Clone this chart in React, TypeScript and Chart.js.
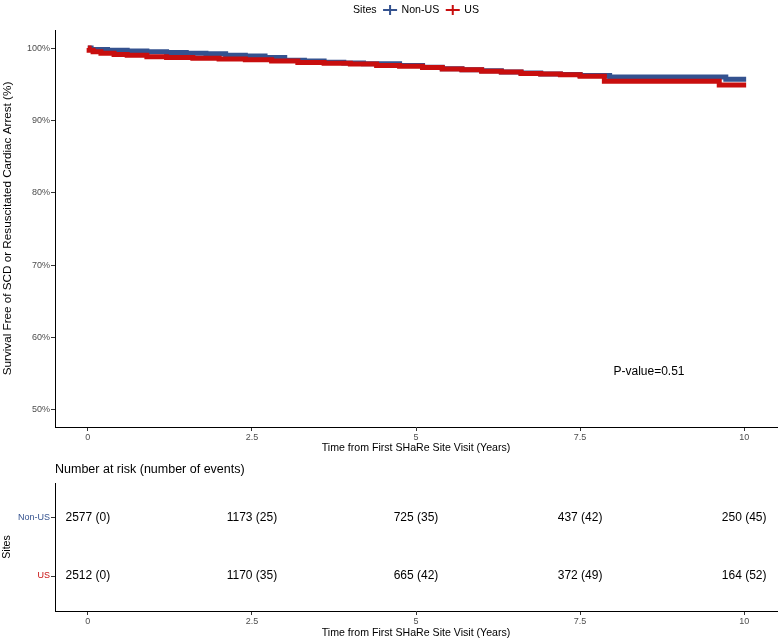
import React, { useEffect, useRef } from "react";
import { Chart, registerables } from "chart.js";

Chart.register(...registerables);

// ---------- data ----------
const seriesNames = ["Non-US", "US"];
const nonUsTimes = [0, 0.05, 0.3, 0.6, 0.9, 1.2, 1.5, 1.8, 2.1, 2.4, 2.7, 3.0, 3.3, 3.6, 3.9, 4.2, 4.75, 5.1, 5.4, 5.7, 6.0, 6.3, 6.6, 6.9, 7.2, 7.5, 7.95, 9.72, 10.03];
const nonUsSurv = [100, 99.8, 99.7, 99.6, 99.5, 99.4, 99.3, 99.2, 99.0, 98.9, 98.7, 98.3, 98.2, 98.05, 97.95, 97.85, 97.6, 97.35, 97.15, 97.0, 96.85, 96.7, 96.55, 96.4, 96.35, 96.2, 96.0, 95.7, 95.7];
const usTimes = [0, 0.02, 0.08, 0.2, 0.4, 0.6, 0.9, 1.2, 1.6, 2.0, 2.4, 2.8, 3.2, 3.6, 4.0, 4.4, 4.75, 5.1, 5.4, 5.7, 6.0, 6.3, 6.6, 6.9, 7.2, 7.5, 7.87, 9.62, 10.03];
const usSurv = [100, 99.7, 99.5, 99.3, 99.1, 99.0, 98.8, 98.7, 98.6, 98.5, 98.4, 98.2, 98.0, 97.9, 97.8, 97.6, 97.5, 97.3, 97.1, 97.0, 96.8, 96.7, 96.5, 96.4, 96.3, 96.1, 95.4, 94.9, 94.9];

const riskTimes = [0, 2.5, 5, 7.5, 10];
const nonUsAtRisk = [2577, 1173, 725, 437, 250];
const nonUsEvents = [0, 25, 35, 42, 45];
const usAtRisk = [2512, 1170, 665, 372, 164];
const usEvents = [0, 35, 42, 49, 52];

const xTicks = [0, 2.5, 5, 7.5, 10];
const yTicks = [50, 60, 70, 80, 90, 100];
const xTickLabels = ["0", "2.5", "5", "7.5", "10"];
const pValueText = "P-value=0.51";
const legendTitle = "Sites";
const xTitle = "Time from First SHaRe Site Visit (Years)";
const yTitle = "Survival Free of SCD or Resuscitated Cardiac Arrest (%)";
const riskTitle = "Number at risk (number of events)";

// ---------- styles ----------
const BLUE = "#34528F";
const RED = "#C80E0E";
const FONT = "'Liberation Sans', Arial, Helvetica, sans-serif";
const TICK_COLOR = "#4D4D4D";
const P_POS = { x: 8.55, y: 55.3 };

Chart.defaults.font.family = FONT;

const xScale = (height: number) => ({
  type: "linear" as const,
  min: -0.5,
  max: 10.5,
  afterBuildTicks: (s: any) => {
    s.ticks = xTicks.map((v) => ({ value: v }));
  },
  afterFit: (s: any) => {
    s.height = height;
  },
  ticks: {
    autoSkip: false,
    maxRotation: 0,
    padding: 1,
    color: TICK_COLOR,
    font: { size: 9 },
    callback: (v: any) => xTickLabels[xTicks.indexOf(Number(v))] ?? String(v),
  },
  grid: { drawOnChartArea: false, drawTicks: true, tickLength: 4, color: "#333333" },
  border: { display: true, color: "#000000", width: 1 },
  title: { display: true, text: xTitle, color: "#000000", font: { size: 10.6 }, padding: { top: 0, bottom: 1 } },
});

const legendPlugin = {
  id: "kmLegend",
  afterDraw(chart: any) {
    const { ctx, chartArea } = chart;
    ctx.save();
    ctx.font = `10.6px ${FONT}`;
    ctx.textBaseline = "middle";
    ctx.fillStyle = "#000";
    const y = 10;
    const keyW = 17;
    const gap = 5;
    const tW = ctx.measureText(legendTitle).width;
    const lW = seriesNames.map((n) => ctx.measureText(n).width);
    const total = tW + gap + (keyW + 3 + lW[0]) + gap + (keyW + 3 + lW[1]);
    let x = (chartArea.left + chartArea.right) / 2 - total / 2;
    ctx.textAlign = "left";
    ctx.fillText(legendTitle, x, y);
    x += tW + gap;
    const colors = [BLUE, RED];
    seriesNames.forEach((n, i) => {
      const cx = x + keyW / 2;
      ctx.strokeStyle = colors[i];
      ctx.lineWidth = 2;
      ctx.beginPath();
      ctx.moveTo(cx - 7, y);
      ctx.lineTo(cx + 7, y);
      ctx.moveTo(cx, y - 5);
      ctx.lineTo(cx, y + 5);
      ctx.stroke();
      x += keyW + 3;
      ctx.fillStyle = "#000";
      ctx.fillText(n, x, y);
      x += lW[i] + gap;
    });
    // p-value
    const xs = chart.scales.x;
    const ys = chart.scales.y;
    ctx.font = `12px ${FONT}`;
    ctx.textAlign = "center";
    ctx.fillText(pValueText, xs.getPixelForValue(P_POS.x), ys.getPixelForValue(P_POS.y));
    ctx.restore();
  },
};

const riskPlugin = {
  id: "riskText",
  afterDatasetsDraw(chart: any) {
    const { ctx } = chart;
    ctx.save();
    ctx.font = `12px ${FONT}`;
    ctx.textAlign = "center";
    ctx.textBaseline = "middle";
    ctx.fillStyle = "#000";
    const tables = [
      [nonUsAtRisk, nonUsEvents],
      [usAtRisk, usEvents],
    ];
    chart.data.datasets.forEach((_: any, i: number) => {
      const meta = chart.getDatasetMeta(i);
      meta.data.forEach((pt: any, j: number) => {
        ctx.fillText(`${tables[i][0][j]} (${tables[i][1][j]})`, pt.x, pt.y);
      });
    });
    ctx.font = `12.5px ${FONT}`;
    ctx.textAlign = "left";
    ctx.fillText(riskTitle, chart.chartArea.left, 15);
    ctx.restore();
  },
};

export default function App() {
  const mainRef = useRef<HTMLCanvasElement>(null);
  const riskRef = useRef<HTMLCanvasElement>(null);

  useEffect(() => {
    const main = new Chart(mainRef.current!, {
      type: "line",
      data: {
        datasets: [
          {
            label: seriesNames[0],
            data: nonUsTimes.map((t, i) => ({ x: t, y: nonUsSurv[i] })),
            borderColor: BLUE,
            backgroundColor: BLUE,
            borderWidth: 5,
            stepped: true,
            pointRadius: 0,
            order: 2,
          },
          {
            label: seriesNames[1],
            data: usTimes.map((t, i) => ({ x: t, y: usSurv[i] })),
            borderColor: RED,
            backgroundColor: RED,
            borderWidth: 5,
            stepped: true,
            pointRadius: 0,
            order: 1,
          },
        ],
      },
      options: {
        responsive: false,
        animation: false,
        layout: { padding: { top: 30, right: 3, left: 0, bottom: 0 } },
        plugins: { legend: { display: false }, tooltip: { enabled: false } },
        scales: {
          x: xScale(28) as any,
          y: {
            type: "linear",
            min: 47.6,
            max: 102.5,
            afterBuildTicks: (s: any) => {
              s.ticks = yTicks.map((v) => ({ value: v }));
            },
            afterFit: (s: any) => {
              s.width = 55;
            },
            ticks: {
              padding: 1,
              color: TICK_COLOR,
              font: { size: 9 },
              callback: (v: any) => `${v}%`,
            },
            grid: { drawOnChartArea: false, drawTicks: true, tickLength: 4, color: "#333333" },
            border: { display: true, color: "#000000", width: 1 },
            title: { display: true, text: yTitle, color: "#000000", font: { size: 11.7 }, padding: { top: 1, bottom: 0 } },
          },
        },
      },
      plugins: [legendPlugin],
    });

    const risk = new Chart(riskRef.current!, {
      type: "scatter",
      data: {
        datasets: [
          { label: seriesNames[0], data: riskTimes.map((t) => ({ x: t, y: 0 })), pointRadius: 0 },
          { label: seriesNames[1], data: riskTimes.map((t) => ({ x: t, y: 1 })), pointRadius: 0 },
        ],
      },
      options: {
        responsive: false,
        animation: false,
        layout: { padding: { top: 28, right: 3, left: 0, bottom: 0 } },
        plugins: { legend: { display: false }, tooltip: { enabled: false } },
        scales: {
          x: xScale(29) as any,
          y: {
            type: "linear",
            min: -0.603,
            max: 1.603,
            reverse: true,
            afterBuildTicks: (s: any) => {
              s.ticks = [{ value: 0 }, { value: 1 }];
            },
            afterFit: (s: any) => {
              s.width = 55;
            },
            ticks: {
              padding: 1,
              font: { size: 9 },
              color: (c: any) => (c.tick && c.tick.value === 1 ? RED : BLUE),
              callback: (v: any) => seriesNames[Number(v)] ?? "",
            },
            grid: { drawOnChartArea: false, drawTicks: true, tickLength: 4, color: "#333333" },
            border: { display: true, color: "#000000", width: 1 },
            title: { display: true, text: legendTitle, color: "#000000", font: { size: 10.6 }, padding: { top: 1, bottom: 0 } },
          },
        },
      },
      plugins: [riskPlugin],
    });

    return () => {
      main.destroy();
      risk.destroy();
    };
  }, []);

  return (
    <div style={{ position: "fixed", left: 0, top: 0, width: 780, height: 640, background: "#fff" }}>
      <canvas ref={mainRef} width={780} height={455} style={{ display: "block" }} />
      <canvas ref={riskRef} width={780} height={185} style={{ display: "block" }} />
    </div>
  );
}
